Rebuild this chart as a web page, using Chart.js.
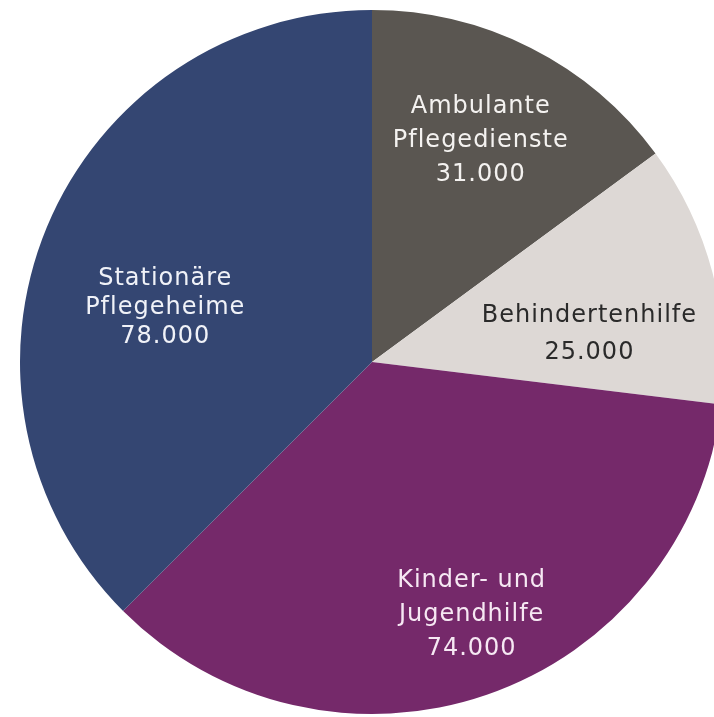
<!DOCTYPE html>
<html>
<head>
<meta charset="utf-8">
<script src="https://cdn.jsdelivr.net/npm/chart.js@4"></script>
<style>
  html, body { margin: 0; padding: 0; background: #ffffff; overflow: hidden; width: 714px; height: 717px; }
  #wrap { position: absolute; left: 0; top: 0; width: 744px; height: 724px; }
</style>
</head>
<body>
<div id="wrap"><canvas id="pieChart" width="744" height="724"></canvas></div>
<script>
// Pflegekräfte nach Bereich
const categories = [
  ['Ambulante', 'Pflegedienste'],
  ['Behindertenhilfe'],
  ['Kinder- und', 'Jugendhilfe'],
  ['Stationäre', 'Pflegeheime']
];
const values = [31000, 25000, 74000, 78000];
const sliceColors = ['#5a5651', '#ddd8d5', '#75296a', '#344672'];
const textColors = ['#f4f2f0', '#2a2a2a', '#f6e8f3', '#f0f2f8'];

// label placement: radius fraction, angle shift from slice middle (deg), line height
const labelPlacement = [
  { frac: 0.70, shift: -0.9, lh: 34 },
  { frac: 0.62, shift: 7.3, lh: 37 },
  { frac: 0.77, shift: -2.3, lh: 34 },
  { frac: 0.61, shift: -7.9, lh: 29 }
];

function fmt(v) {
  return v.toLocaleString('de-DE');
}

const sliceLabels = {
  id: 'sliceLabels',
  afterDatasetsDraw(chart) {
    const ctx = chart.ctx;
    const meta = chart.getDatasetMeta(0);
    ctx.save();
    ctx.font = '24px "DejaVu Sans", Verdana, sans-serif';
    ctx.letterSpacing = '1px';
    ctx.textAlign = 'center';
    ctx.textBaseline = 'middle';
    meta.data.forEach(function(arc, i) {
      const p = labelPlacement[i];
      const mid = (arc.startAngle + arc.endAngle) / 2 + p.shift * Math.PI / 180;
      const d = arc.outerRadius * p.frac;
      const x = arc.x + d * Math.cos(mid) + 1;
      const y = arc.y + d * Math.sin(mid);
      const lines = categories[i].concat([fmt(values[i])]);
      const top = y - (lines.length - 1) * p.lh / 2;
      ctx.fillStyle = textColors[i];
      lines.forEach(function(line, j) {
        ctx.fillText(line, x, top + j * p.lh);
      });
    });
    ctx.restore();
  }
};

new Chart(document.getElementById('pieChart').getContext('2d'), {
  type: 'pie',
  data: {
    labels: categories.map(function(c) { return c.join(' '); }),
    datasets: [{
      data: values,
      backgroundColor: sliceColors,
      borderWidth: 0
    }]
  },
  options: {
    responsive: false,
    animation: false,
    layout: { padding: 10 },
    plugins: {
      legend: { display: false },
      tooltip: { enabled: false }
    }
  },
  plugins: [sliceLabels]
});
</script>
</body>
</html>
